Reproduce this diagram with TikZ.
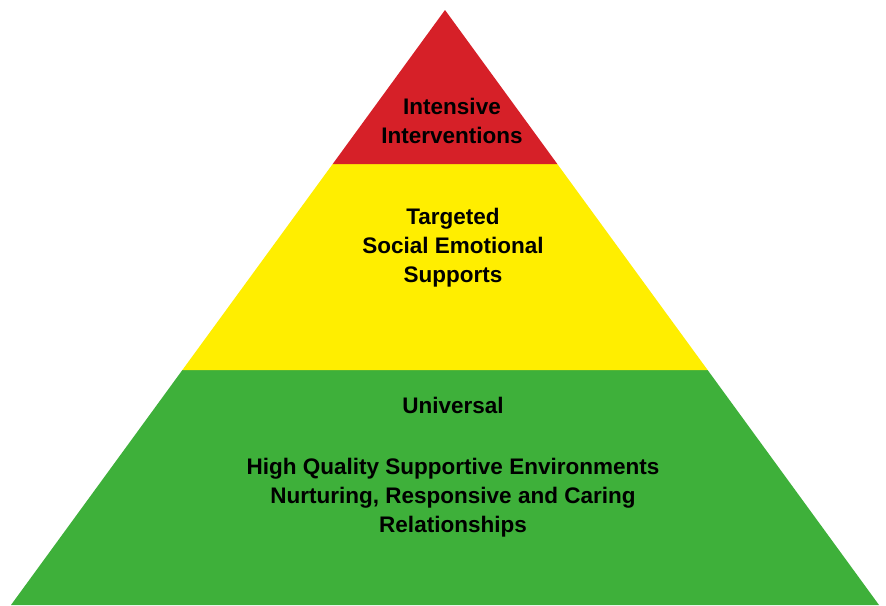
\documentclass[tikz,border=0pt]{standalone}
\usepackage{fontspec}
\setmainfont{Liberation Sans}
\definecolor{tierred}{RGB}{214,32,40}
\definecolor{tieryellow}{RGB}{255,238,0}
\definecolor{tiergreen}{RGB}{62,176,58}
\begin{document}
\begin{tikzpicture}[x=1pt,y=-1pt,
  tiertext/.style={align=center,font=\fontsize{22.5}{29}\selectfont\bfseries,text=black,inner sep=0pt}]
\useasboundingbox (0,0) rectangle (886,605);
\fill[white] (0,0) rectangle (886,605);
% tiers
\fill[tiergreen] (182.4,370) -- (707.6,370) -- (879,605) -- (11,605) -- cycle;
\fill[tieryellow] (332.7,164) -- (557.3,164) -- (707.6,370) -- (182.4,370) -- cycle;
\fill[tierred] (445,10) -- (557.3,164) -- (332.7,164) -- cycle;
% texts
\node[tiertext] (top) at (452,121) {Intensive\\Interventions};
\node[tiertext] (mid) at (453,248) {Targeted\\Social Emotional\\Supports};
\node[tiertext] (univ) at (453,405) {Universal};
\node[tiertext] (base) at (453,497.5) {High Quality Supportive Environments\\Nurturing, Responsive and Caring\\Relationships};
\end{tikzpicture}
\end{document}
